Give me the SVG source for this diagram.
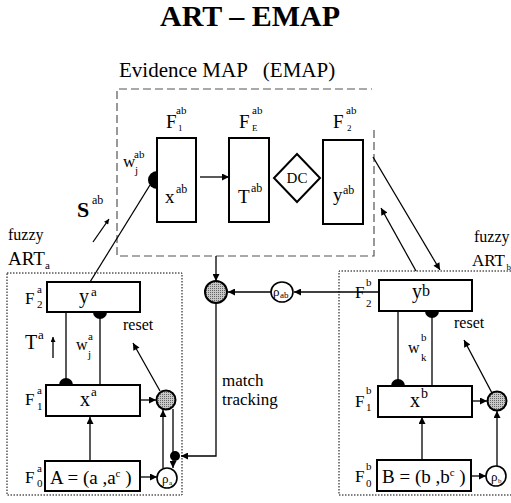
<svg xmlns="http://www.w3.org/2000/svg" width="511" height="503" viewBox="0 0 511 503" xml:space="preserve">
<style>
text{font-family:"Liberation Serif","Times New Roman",serif;fill:#000;white-space:pre}
.box{fill:#fff;stroke:#000;stroke-width:2}
.ln{fill:none;stroke:#000;stroke-width:1.3}
.dot{fill:none;stroke:#000;stroke-width:1;stroke-dasharray:1.5 1.5}
.dash{fill:none;stroke:#555;stroke-width:1.2;stroke-dasharray:8 4}
.gray{fill:url(#stip);stroke:#000;stroke-width:2}
.rho{fill:#fff;stroke:#000;stroke-width:1.6}
.blk{fill:#000}
</style>
<defs>
<pattern id="stip" width="2" height="2" patternUnits="userSpaceOnUse"><rect width="2" height="2" fill="#c8c8c8"/><rect width="1" height="1" fill="#666"/></pattern>
<marker id="ah" viewBox="0 0 10 10" refX="10" refY="5" markerWidth="9" markerHeight="7" markerUnits="userSpaceOnUse" orient="auto"><path d="M0,0 L10,5 L0,10 z"/></marker>
<marker id="sm" viewBox="0 0 10 10" refX="10" refY="5" markerWidth="6" markerHeight="5" markerUnits="userSpaceOnUse" orient="auto"><path d="M0,0 L10,5 L0,10 z"/></marker>
</defs>

<text x="250" y="26" font-size="30" font-weight="bold" text-anchor="middle">ART – EMAP</text>

<g id="emap">
<text x="119" y="77" font-size="21" xml:space="preserve">Evidence MAP   (EMAP)</text>
<path class="dash" d="M374,130 V256 H117 V89 H372"/>
</g>

<g id="F1ab">
<rect class="box" x="157" y="138" width="39" height="84"/>
<text x="166" y="128" font-size="19">F</text><text x="176" y="114" font-size="11">ab</text><text x="178" y="131" font-size="9">1</text>
<text x="165" y="203" font-size="19">x</text><text x="176" y="193" font-size="12">ab</text>
<path class="blk" d="M157,171 A9,9 0 0 0 157,189 Z"/>
<text x="123" y="167" font-size="17">w</text><text x="134" y="158" font-size="11">ab</text><text x="135" y="174" font-size="11">j</text>
</g>

<g id="FEab">
<rect class="box" x="229" y="138" width="40" height="84"/>
<text x="239" y="128" font-size="19">F</text><text x="252" y="114" font-size="11">ab</text><text x="252" y="131" font-size="9">E</text>
<text x="238" y="203" font-size="19">T</text><text x="251" y="192" font-size="12">ab</text>
</g>

<g id="DC">
<path class="box" d="M297,154 L320,178 L297,202 L274,178 Z"/>
<text x="297" y="183" font-size="15" text-anchor="middle">DC</text>
</g>

<g id="F2ab">
<rect class="box" x="323" y="140" width="40" height="84"/>
<text x="333" y="128" font-size="19">F</text><text x="346" y="114" font-size="11">ab</text><text x="347" y="131" font-size="9">2</text>
<text x="333" y="201" font-size="19">y</text><text x="343" y="194" font-size="12">ab</text>
</g>

<g id="labels">
<text x="77" y="217" font-size="22" font-weight="bold">S</text><text x="92" y="204" font-size="12">ab</text>
<text x="8" y="240" font-size="16">fuzzy</text>
<text x="8" y="265" font-size="19">ART</text><text x="45" y="269" font-size="11">a</text>
<text x="474" y="242" font-size="16">fuzzy</text>
<text x="472" y="266" font-size="17">ART</text><text x="506.5" y="270" font-size="9">b</text>
<text x="222" y="386" font-size="17">match</text>
<text x="222" y="405" font-size="17">tracking</text>
</g>

<g id="mapReset">
<circle class="gray" cx="216" cy="292" r="11"/>
</g>
<g id="rhoab">
<ellipse class="rho" cx="282" cy="292" rx="11" ry="10"/>
<text x="273" y="296" font-size="13">ρ</text><text x="280" y="298" font-size="9">ab</text>
</g>

<g id="artA">
<rect class="dot" x="7" y="273" width="175" height="222"/>
</g>
<g id="F2a">
<rect class="box" x="47" y="282" width="93" height="30"/>
<text x="25" y="304" font-size="17">F</text><text x="37" y="293" font-size="11">a</text><text x="37" y="308" font-size="11">2</text>
<text x="79" y="303" font-size="20">y</text><text x="91" y="296" font-size="13">a</text>
</g>
<g id="F1a">
<rect class="box" x="46" y="385" width="94" height="31"/>
<text x="25" y="405" font-size="17">F</text><text x="37" y="394" font-size="11">a</text><text x="37" y="410" font-size="11">1</text>
<text x="80" y="406" font-size="20">x</text><text x="91" y="396" font-size="13">a</text>
</g>
<g id="F0a">
<rect class="box" x="45" y="461" width="95" height="30"/>
<text x="25" y="483" font-size="17">F</text><text x="37" y="472" font-size="11">a</text><text x="37" y="487" font-size="11">0</text>
<text x="50" y="484" font-size="19">A = (a ,a<tspan dy="-7" font-size="11">c</tspan><tspan dy="7"> )</tspan></text>
</g>
<g id="resetA">
<circle class="gray" cx="166" cy="400" r="9.5"/>
</g>
<g id="rhoA">
<circle class="rho" cx="167" cy="478" r="10"/>
<text x="162" y="483" font-size="13">ρ</text><text x="169" y="485" font-size="7">a</text>
</g>
<g id="dotA"><circle class="blk" cx="175" cy="456" r="5"/></g>

<g id="artB">
<path class="dot" d="M511,271 H339 V495 H511"/>
</g>
<g id="F2b">
<rect class="box" x="379" y="280" width="93" height="31"/>
<text x="412" y="298" font-size="20">y</text><text x="422" y="296" font-size="16">b</text>
</g>
<g id="F1b">
<rect class="box" x="378" y="386" width="94" height="31"/>
<text x="355" y="407" font-size="17">F</text><text x="366" y="394" font-size="11">b</text><text x="366" y="411" font-size="11">1</text>
<text x="410" y="407" font-size="20">x</text><text x="421" y="398" font-size="14">b</text>
</g>
<g id="F0b">
<rect class="box" x="377" y="460" width="94" height="31"/>
<text x="355" y="482" font-size="17">F</text><text x="366" y="470" font-size="11">b</text><text x="366" y="487" font-size="11">0</text>
<text x="382" y="483" font-size="19">B = (b ,b<tspan dy="-7" font-size="11">c</tspan><tspan dy="7"> )</tspan></text>
</g>
<g id="resetB">
<circle class="gray" cx="497" cy="401" r="9.5"/>
</g>
<g id="rhoB">
<circle class="rho" cx="496" cy="476" r="10"/>
<text x="491" y="481" font-size="13">ρ</text><text x="498" y="483" font-size="7">b</text>
</g>

<g id="connectors">
<path class="ln" d="M200,177 H229" marker-end="url(#ah)"/>
<path class="ln" d="M90,282 L150,185"/>
<path class="ln" d="M93,242 L109,219" stroke-width="0.9" marker-end="url(#sm)"/>
<path class="ln" d="M216,256 V281" marker-end="url(#ah)"/>
<path class="ln" d="M271,292 H228" marker-end="url(#ah)"/>
<path class="ln" d="M379,292 H294" marker-end="url(#ah)"/>
<path class="ln" d="M216,303 V456 H181" marker-end="url(#ah)"/>
<path class="ln" d="M373,157 L440,270" marker-end="url(#ah)"/>
<path class="ln" d="M416,271 L381,208" marker-end="url(#ah)"/>
<path class="ln" d="M66,312 V385"/>
<path class="blk" d="M59,385 A7,7 0 0 1 73,385 Z"/>
<path class="ln" d="M100,312 V385"/>
<path class="blk" d="M93,312 A7,7 0 0 0 107,312 Z"/>
<path class="ln" d="M53,358 V337" stroke-width="0.9" marker-end="url(#sm)"/>
<path class="ln" d="M160,391 L133,343" marker-end="url(#ah)"/>
<path class="ln" d="M140,400 H156" marker-end="url(#ah)"/>
<path class="ln" d="M140,477 H157" marker-end="url(#ah)"/>
<path class="ln" d="M90,461 V417" marker-end="url(#ah)"/>
<path class="ln" d="M163,468 V410" marker-end="url(#ah)"/>
<path class="ln" d="M173,409 V452"/>
<path class="ln" d="M173,460 V468" marker-end="url(#ah)"/>
<path class="ln" d="M398,311 V386"/>
<path class="blk" d="M391,386 A7,7 0 0 1 405,386 Z"/>
<path class="ln" d="M432,311 V386"/>
<path class="blk" d="M425,311 A7,7 0 0 0 439,311 Z"/>
<path class="ln" d="M492,393 L464,340" marker-end="url(#ah)"/>
<path class="ln" d="M472,401 H487" marker-end="url(#ah)"/>
<path class="ln" d="M471,476 H486" marker-end="url(#ah)"/>
<path class="ln" d="M422,460 V417" marker-end="url(#ah)"/>
<path class="ln" d="M497,466 V411" marker-end="url(#ah)"/>
</g>

<g id="labelsTop">
<text x="355" y="298" font-size="17">F</text><text x="366" y="286" font-size="11">b</text><text x="366" y="307" font-size="11">2</text>
<text x="25" y="349" font-size="20">T</text><text x="38" y="339" font-size="13">a</text>
<text x="76" y="350" font-size="16">w</text><text x="88" y="340" font-size="11">a</text><text x="88" y="358" font-size="11">j</text>
<text x="123" y="330" font-size="16">reset</text>
<text x="408" y="353" font-size="16">w</text><text x="421" y="341" font-size="11">b</text><text x="421" y="361" font-size="11">k</text>
<text x="454" y="328" font-size="16">reset</text>
</g>
</svg>
